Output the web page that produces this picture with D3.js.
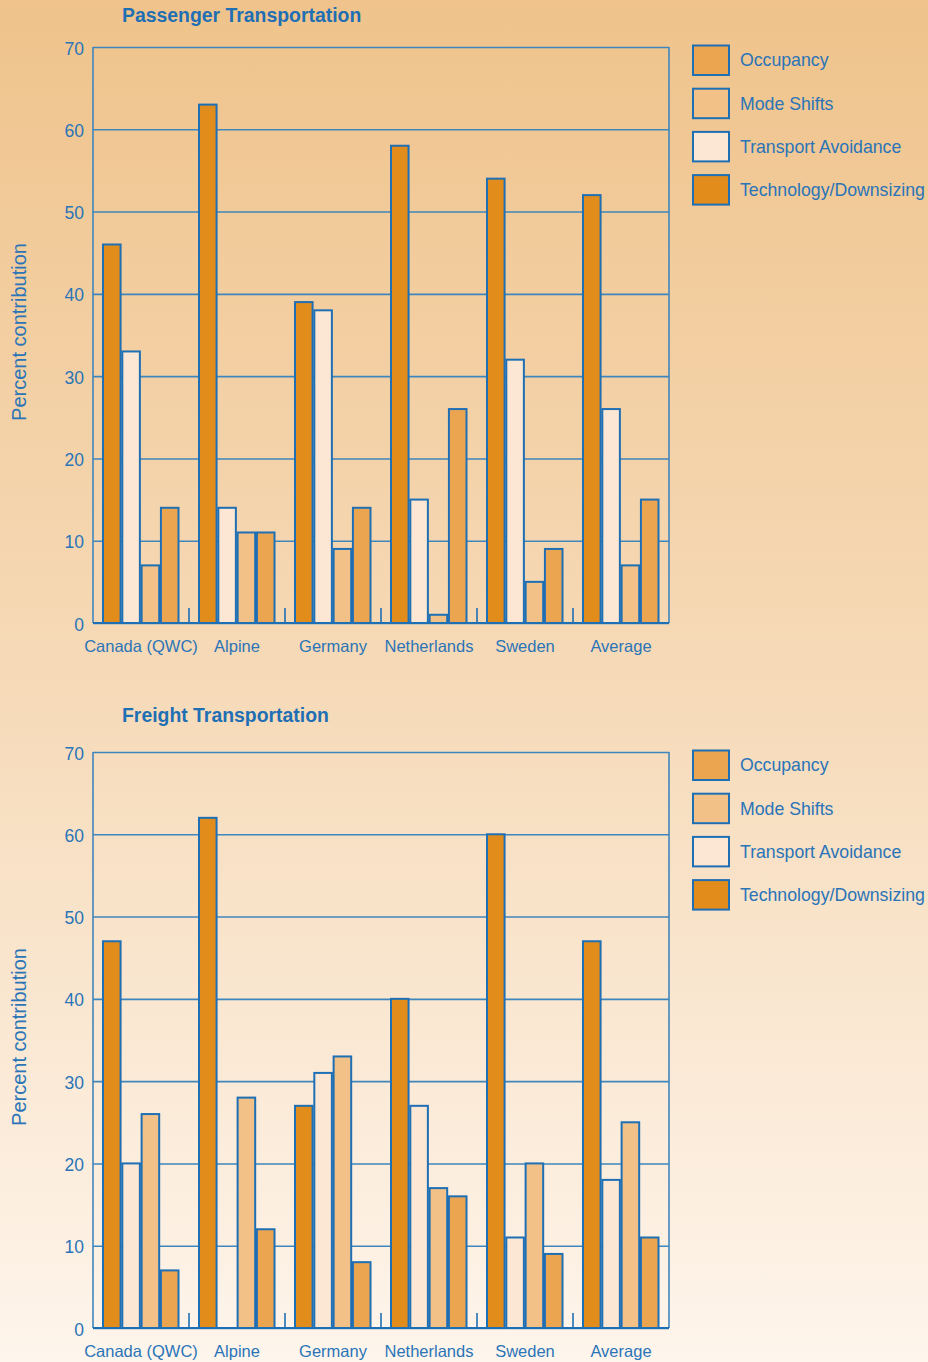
<!DOCTYPE html>
<html>
<head>
<meta charset="utf-8">
<script src="https://cdn.jsdelivr.net/npm/d3@7"></script>
<style>
  html, body { margin: 0; padding: 0; }
  body { width: 928px; height: 1362px; overflow: hidden; }
  text { font-family: "Liberation Sans", Arial, sans-serif; }
</style>
</head>
<body>
<svg id="chart" width="928" height="1362"></svg>
<script>
// Regions compared in both panels
const categories = ["Canada (QWC)", "Alpine", "Germany", "Netherlands", "Sweden", "Average"];

// Bar order inside each group (left to right)
const barSeries = ["Technology/Downsizing", "Transport Avoidance", "Mode Shifts", "Occupancy"];

// Legend order (top to bottom)
const legendSeries = ["Occupancy", "Mode Shifts", "Transport Avoidance", "Technology/Downsizing"];

// Percent contribution per region, one array per series
const passengerTechnology = [46, 63, 39, 58, 54, 52];
const passengerAvoidance  = [33, 14, 38, 15, 32, 26];
const passengerModeShifts = [7, 11, 9, 1, 5, 7];
const passengerOccupancy  = [14, 11, 14, 26, 9, 15];

const freightTechnology = [47, 62, 27, 40, 60, 47];
const freightAvoidance  = [20, 0, 31, 27, 11, 18];
const freightModeShifts = [26, 28, 33, 17, 20, 25];
const freightOccupancy  = [7, 12, 8, 16, 9, 11];

const yTicks = [0, 10, 20, 30, 40, 50, 60, 70];

const palette = {
  "Occupancy": "#EBA551",
  "Mode Shifts": "#F1C188",
  "Transport Avoidance": "#FBE7D3",
  "Technology/Downsizing": "#E28C1B"
};
const blue = "#1F6FB4";
const gridBlue = "#3F86BD";
const textBlue = "#2A74B8";

const svg = d3.select("#chart");

// Warm vertical background wash
const defs = svg.append("defs");
const grad = defs.append("linearGradient")
  .attr("id", "bg").attr("x1", 0).attr("y1", 0).attr("x2", 0).attr("y2", 1);
grad.append("stop").attr("offset", "0%").attr("stop-color", "#EFC38B");
grad.append("stop").attr("offset", "50%").attr("stop-color", "#F6DAB8");
grad.append("stop").attr("offset", "100%").attr("stop-color", "#FEF5EC");
svg.append("rect").attr("width", 928).attr("height", 1362).attr("fill", "url(#bg)");

const panels = [
  {
    title: "Passenger Transportation", top: 47, bottom: 623, titleY: 22,
    series: {
      "Technology/Downsizing": passengerTechnology,
      "Transport Avoidance": passengerAvoidance,
      "Mode Shifts": passengerModeShifts,
      "Occupancy": passengerOccupancy
    }
  },
  {
    title: "Freight Transportation", top: 752, bottom: 1328, titleY: 722,
    series: {
      "Technology/Downsizing": freightTechnology,
      "Transport Avoidance": freightAvoidance,
      "Mode Shifts": freightModeShifts,
      "Occupancy": freightOccupancy
    }
  }
];

const left = 93, right = 669;

panels.forEach(p => {
  const g = svg.append("g");

  const x = d3.scaleBand().domain(categories).range([left, right]).paddingInner(0).paddingOuter(0);
  const xInner = d3.scaleBand().domain(barSeries).range([10, 85.5]).paddingInner(0.09).paddingOuter(0);
  const y = d3.scaleLinear().domain([0, 70]).range([p.bottom, p.top]);

  // Title
  g.append("text")
    .attr("x", 122).attr("y", p.titleY)
    .attr("font-size", 19.4).attr("font-weight", "bold")
    .attr("fill", blue)
    .text(p.title);

  // Axis title
  g.append("text")
    .attr("transform", `translate(26,${(p.top + p.bottom) / 2 - 3}) rotate(-90)`)
    .attr("text-anchor", "middle")
    .attr("font-size", 20)
    .attr("fill", textBlue)
    .text("Percent contribution");

  // Gridlines + tick labels
  const yAxis = d3.axisLeft(y).tickValues(yTicks)
    .tickSizeInner(-(right - left)).tickSizeOuter(0).tickPadding(9);
  const ay = g.append("g").attr("transform", `translate(${left},0)`).call(yAxis);
  ay.select(".domain").remove();
  ay.selectAll(".tick line").attr("stroke", gridBlue).attr("stroke-width", 1.6);
  ay.selectAll(".tick text")
    .attr("font-size", 17.5).attr("fill", textBlue)
    .attr("font-family", "\"Liberation Sans\", Arial, sans-serif")
    .attr("dy", "0.4em");

  // Plot frame sides
  g.append("line").attr("x1", left).attr("x2", left).attr("y1", p.top).attr("y2", p.bottom)
    .attr("stroke", gridBlue).attr("stroke-width", 1.6);
  g.append("line").attr("x1", right).attr("x2", right).attr("y1", p.top).attr("y2", p.bottom)
    .attr("stroke", gridBlue).attr("stroke-width", 1.6);

  // Bars
  const groups = g.selectAll("g.grp").data(categories).join("g")
    .attr("class", "grp")
    .attr("transform", d => `translate(${x(d)},0)`);
  groups.selectAll("rect")
    .data((d, i) => barSeries.map(s => ({ key: s, value: p.series[s][i] })))
    .join("rect")
    .attr("x", d => xInner(d.key))
    .attr("width", xInner.bandwidth())
    .attr("y", d => y(d.value))
    .attr("height", d => y(0) - y(d.value))
    .attr("fill", d => palette[d.key])
    .attr("stroke", d => d.value > 0 ? blue : "none")
    .attr("stroke-width", 2);

  // Baseline
  g.append("line").attr("x1", left).attr("x2", right).attr("y1", y(0)).attr("y2", y(0))
    .attr("stroke", blue).attr("stroke-width", 2);

  // Separators between groups
  g.selectAll("line.sep").data(categories.slice(1)).join("line")
    .attr("class", "sep")
    .attr("x1", d => x(d)).attr("x2", d => x(d))
    .attr("y1", y(0)).attr("y2", y(0) - 15)
    .attr("stroke", blue).attr("stroke-width", 1.6);

  // Category labels
  g.selectAll("text.cat").data(categories).join("text")
    .attr("class", "cat")
    .attr("x", d => x(d) + x.bandwidth() / 2)
    .attr("y", p.bottom + 29)
    .attr("text-anchor", "middle")
    .attr("font-size", 16.5)
    .attr("fill", textBlue)
    .text(d => d);

  // Legend
  const lg = g.selectAll("g.leg").data(legendSeries).join("g")
    .attr("class", "leg")
    .attr("transform", (d, i) => `translate(693,${p.top - 1.5 + i * 43.2})`);
  lg.append("rect")
    .attr("width", 36).attr("height", 29.5)
    .attr("fill", d => palette[d])
    .attr("stroke", blue).attr("stroke-width", 2);
  lg.append("text")
    .attr("x", 47).attr("y", 14.5).attr("dy", "0.36em")
    .attr("font-size", 17.7)
    .attr("fill", textBlue)
    .text(d => d);
});
</script>
</body>
</html>
